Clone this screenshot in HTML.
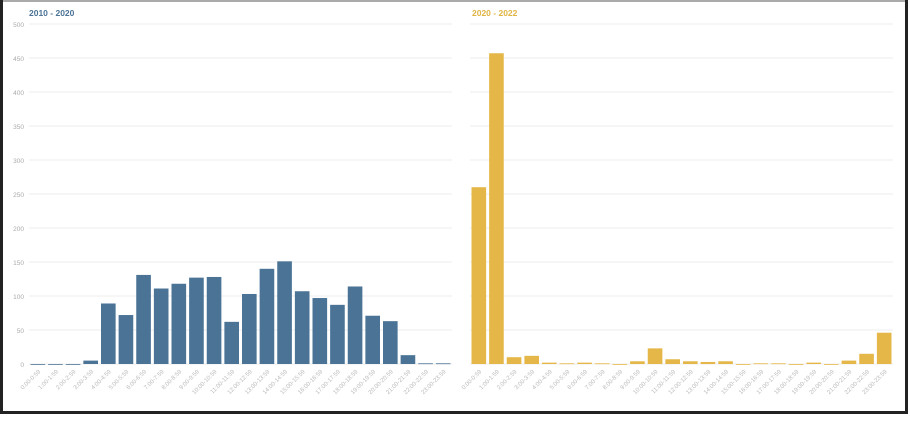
<!DOCTYPE html>
<html><head><meta charset="utf-8"><style>
body{margin:0;background:#fff;width:910px;height:416px;overflow:hidden;font-family:"Liberation Sans",sans-serif}
</style></head><body>
<svg width="910" height="416">
<rect x="0" y="0" width="910" height="416" fill="#fff"/>
<line x1="0" y1="1" x2="908" y2="1" stroke="#aaa" stroke-width="2"/>
<rect x="0" y="0" width="3" height="414" fill="#222"/>
<rect x="905" y="0" width="3" height="414" fill="#222"/>
<rect x="0" y="411" width="908" height="3" fill="#222"/>
<text x="29" y="16" font-size="8.5" font-weight="bold" fill="#4a7396">2010 - 2020</text>
<text x="472" y="16" font-size="8.5" font-weight="bold" fill="#e0b443">2020 - 2022</text>
<g id="g"></g>
</svg>
<script>
const categories=["0:00-0:59","1:00-1:59","2:00-2:59","3:00-3:59","4:00-4:59","5:00-5:59","6:00-6:59","7:00-7:59","8:00-8:59","9:00-9:59","10:00-10:59","11:00-11:59","12:00-12:59","13:00-13:59","14:00-14:59","15:00-15:59","16:00-16:59","17:00-17:59","18:00-18:59","19:00-19:59","20:00-20:59","21:00-21:59","22:00-22:59","23:00-23:59"];
const values2010=[0,0,0,5,89,72,131,111,118,127,128,62,103,140,151,107,97,87,114,71,63,13,1,1];
const values2020=[260,457,10,12,2,1,2,1,0,4,23,7,4,3,4,0,1,1,0,2,0,5,15,46];
const yTicks=[0,50,100,150,200,250,300,350,400,450,500];
const NS="http://www.w3.org/2000/svg";
const g=document.getElementById('g');
const y0=364,yTop=24,yMax=500;
function y(v){return y0-(v/yMax)*(y0-yTop);}
function mk(t,a){const e=document.createElementNS(NS,t);for(const k in a)e.setAttribute(k,a[k]);g.appendChild(e);return e;}
function panel(x0,x1,vals,color,labels,name){
  yTicks.forEach(t=>{
    const l=mk('line',{x1:x0,x2:x1,y1:y(t),y2:y(t),stroke:'#ececec','stroke-width':1});
    
    
    if(labels){
      const tx=mk('text',{x:x0-5,y:y(t)+3,'font-size':6.5,fill:'#aaa','text-anchor':'end'});
      tx.textContent=t;
      
      
    }
  });
  const bw=(x1-x0)/categories.length;
  vals.forEach((v,i)=>{
    const bx=x0+i*bw+1.5;
    const r=mk('rect',{x:bx,y:y(v),width:bw-3,height:Math.max(y0-y(v),0.8),fill:color});
    
    
    const cx=x0+i*bw+bw/2+3, cy=y0+8;
    const tx=mk('text',{x:cx,y:cy,'font-size':6,fill:'#bbb','text-anchor':'end',transform:`rotate(-45 ${cx} ${cy})`});
    tx.textContent=categories[i];
    
    
  });
}
panel(29,452,values2010,'#4a7396',true,'left');
panel(470,893,values2020,'#e5b748',false,'right');
</script>
</body></html>
